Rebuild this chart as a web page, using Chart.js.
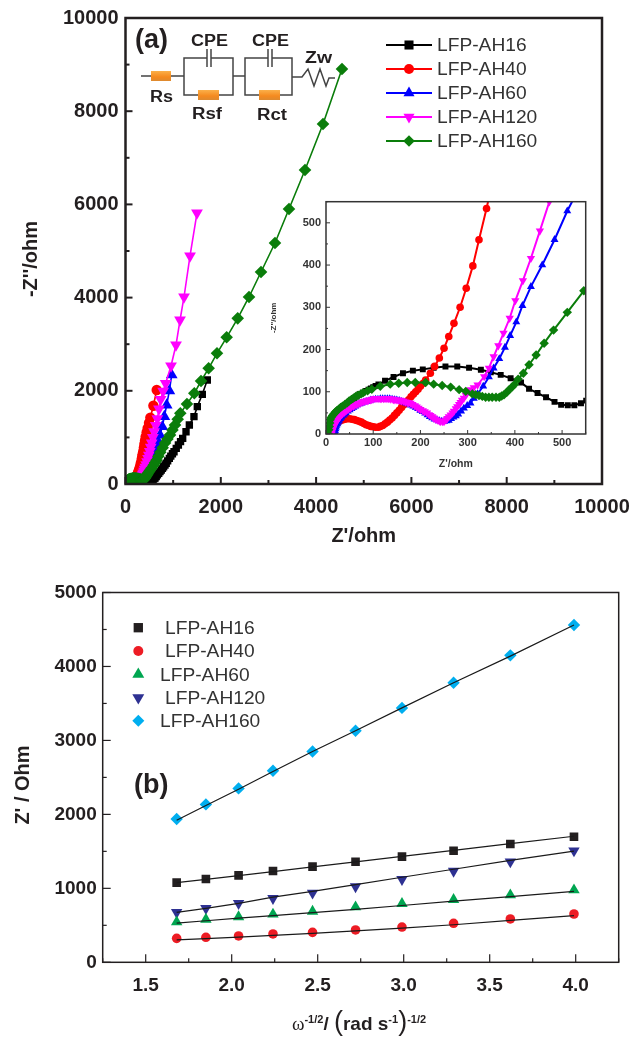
<!DOCTYPE html>
<html>
<head>
<meta charset="utf-8">
<script src="https://cdn.jsdelivr.net/npm/chart.js@4"></script>
<style>
  html, body { margin: 0; padding: 0; background: #fff; }
  body { width: 633px; height: 1040px; position: relative; overflow: hidden; font-family: "Liberation Sans", Arial, sans-serif; }
  canvas, svg { position: absolute; }
  .sideTitle { position: absolute; width: 160px; height: 24px; line-height: 24px; text-align: center; color: #231f20; font-weight: bold; font-size: 20px; transform: rotate(-90deg); white-space: nowrap; }
  #rateTitle { position: absolute; left: 259px; top: 1009px; width: 200px; text-align: center; color: #231f20; font-weight: bold; font-size: 19px; line-height: 30px; white-space: nowrap; }
  #rateTitle sup { font-size: 11px; line-height: 0; }
  #rateTitle .omega { font-family: "Liberation Serif", serif; font-weight: normal; }
  #rateTitle .paren { font-size: 27px; font-weight: normal; line-height: 0; }
</style>
</head>
<body>
<canvas id="chartA" width="633" height="560" style="left:0;top:0"></canvas>
<canvas id="chartInset" width="335" height="290" style="left:265px;top:190px"></canvas>
<canvas id="chartB" width="633" height="480" style="left:0;top:560px"></canvas>

<svg width="633" height="140" style="left:0;top:0" font-family="Liberation Sans" font-weight="bold" fill="#231f20">
  <defs>
    <linearGradient id="orange" x1="0" y1="0" x2="0" y2="1">
      <stop offset="0" stop-color="#fbb04a"/>
      <stop offset="0.6" stop-color="#f58a1f"/>
      <stop offset="1" stop-color="#dd8a30"/>
    </linearGradient>
  </defs>
  <g fill="none" stroke="#444" stroke-width="1.5">
    <path d="M141 76H184M184 76V58H207M211 58H233V95H184V76M233 76H245M245 76V58H268M272 58H292V95H245V76M292 77H302L308 69L314 86L320 69L326 86L329 78H335"/>
    <path d="M207 49V67M211 49V67M268 49V67M272 49V67"/>
  </g>
  <rect x="151" y="71" width="20" height="10" fill="url(#orange)"/>
  <rect x="198" y="90" width="21" height="10" fill="url(#orange)"/>
  <rect x="259" y="90" width="21" height="10" fill="url(#orange)"/>
  <text x="135" y="48" font-size="27">(a)</text>
  <text x="191" y="45.5" font-size="16" textLength="37" lengthAdjust="spacingAndGlyphs">CPE</text>
  <text x="252" y="45.5" font-size="16" textLength="37" lengthAdjust="spacingAndGlyphs">CPE</text>
  <text x="305" y="62.5" font-size="17" textLength="27" lengthAdjust="spacingAndGlyphs">Zw</text>
  <text x="150" y="101.5" font-size="16" textLength="23" lengthAdjust="spacingAndGlyphs">Rs</text>
  <text x="192" y="119" font-size="16" textLength="30" lengthAdjust="spacingAndGlyphs">Rsf</text>
  <text x="257" y="120" font-size="16" textLength="30" lengthAdjust="spacingAndGlyphs">Rct</text>
</svg>
<svg width="633" height="60" style="left:0;top:760px" font-family="Liberation Sans" font-weight="bold" fill="#231f20">
  <text x="134" y="33" font-size="27">(b)</text>
</svg>
<div class="sideTitle" style="left:-50px;top:247px">-Z''/ohm</div>
<div class="sideTitle" style="left:-58px;top:773px">Z' / Ohm</div>
<div id="rateTitle"><span class="omega">ω</span><sup>-1/2</sup>/ <span class="paren">(</span>rad s<sup>-1</sup><span class="paren">)</span><sup>-1/2</sup></div>

<script>
const names = ["LFP-AH16", "LFP-AH40", "LFP-AH60", "LFP-AH120", "LFP-AH160"];

// panel a, Nyquist data as [Z', -Z''] in ohm
const ah16 = [[15,0],[16,6],[17,11],[19,17],[22,24],[25,30],[28,36],[32,43],[36,50],[41,57],[46,64],[51,71],[56,78],[60,84],[65,89],[71,94],[78,98],[84,102],[90,105],[95,108],[100,111],[105,114],[111,117],[125,126],[143,135],[163,144],[184,150],[205,153],[228,157],[253,160],[278,160],[303,157],[328,152],[349,146],[370,140],[391,132],[413,122],[430,107],[448,97],[466,87],[484,76],[498,69],[512,68],[526,68],[540,73],[551,79],[565,90],[580,100],[600,115],[620,129],[645,160],[670,195],[697,230],[724,264],[750,300],[775,335],[800,370],[829,408],[855,445],[885,495],[920,551],[950,598],[985,650],[1018,693],[1065,765],[1110,837],[1155,908],[1200,980],[1270,1122],[1340,1266],[1437,1445],[1507,1660],[1612,1924],[1717,2232]];
const ah40 = [[12,0],[12.5,3],[13,6],[14,10],[15,13],[16,16],[18,20],[20,23],[22,26],[25,28],[27,30],[30,32],[33,33],[36,34],[40,35],[45,36],[50,36],[55,35],[60,34],[65,32],[70,30],[75,28],[80,25],[85,22],[90,20],[95,18],[100,17],[105,16],[111,16],[115,18],[120,20],[125,24],[130,28],[135,33],[140,38],[145,44],[150,50],[155,56],[160,63],[165,69],[170,75],[175,81],[180,88],[185,94],[190,100],[195,106],[200,113],[206,120],[211,128],[221,144],[230,160],[240,180],[250,203],[260,231],[271,262],[284,300],[297,345],[311,398],[324,460],[340,534],[350,585],[360,640],[372,700],[385,780],[397,858],[410,935],[423,1015],[444,1110],[465,1200],[493,1310],[521,1423],[585,1680],[655,2017]];
const ah60 = [[18,0],[18.5,4],[19,8],[20,12],[21,16],[22,20],[24,24],[26,28],[28,32],[30,36],[33,40],[36,44],[39,47],[42,50],[46,54],[50,57],[54,60],[58,63],[62,66],[66,69],[71,71],[75,73],[80,75],[85,77],[90,78],[95,80],[100,81],[105,82],[110,82],[115,83],[120,83],[125,83],[130,83],[135,83],[140,82],[145,81],[150,80],[155,79],[160,77],[165,75],[170,73],[175,71],[180,68],[185,66],[190,63],[195,60],[200,56],[205,53],[210,49],[215,45],[220,41],[225,38],[230,35],[235,33],[240,31],[245,30],[250,30],[255,31],[260,32],[265,36],[270,40],[275,43],[280,47],[286,54],[292,61],[299,67],[306,73],[313,84],[321,95],[333,113],[345,135],[355,156],[367,178],[379,205],[390,233],[403,265],[416,304],[434,349],[458,400],[484,460],[511,528],[528,565],[545,600],[562,640],[580,680],[600,725],[620,770],[655,840],[689,908],[724,1050],[773,1230],[815,1445],[864,1695],[920,2000],[970,2340]];
const ah120 = [[12,0],[13,6],[14,10],[15,13],[16,16],[18,21],[20,25],[22,29],[24,33],[26,36],[28,39],[30,42],[33,46],[35,48],[38,51],[40,53],[43,56],[46,58],[48,60],[51,61],[54,64],[58,66],[61,68],[65,70],[68,72],[72,73],[76,75],[80,77],[83,78],[87,79],[90,80],[94,81],[97,82],[100,83],[104,84],[108,84],[112,84],[115,84],[118,84],[122,84],[125,84],[129,84],[132,84],[136,83],[140,83],[143,82],[146,81],[150,81],[153,80],[157,80],[160,79],[164,78],[168,76],[172,75],[175,74],[179,73],[183,70],[188,67],[192,64],[196,61],[200,58],[205,55],[209,53],[214,50],[218,46],[221,44],[225,41],[228,38],[232,35],[236,33],[240,31],[243,30],[247,30],[250,30],[254,33],[257,37],[260,41],[264,45],[268,50],[271,54],[275,60],[278,65],[282,70],[285,75],[288,80],[292,85],[296,92],[299,97],[303,101],[306,105],[313,110],[321,116],[335,136],[345,156],[355,183],[365,209],[376,239],[389,274],[401,316],[417,363],[434,416],[453,481],[473,550],[490,620],[510,700],[530,790],[550,880],[575,1000],[600,1122],[635,1260],[668,1400],[703,1610],[738,1817],[790,1990],[843,2160],[955,2532],[1060,2983],[1144,3519],[1228,4013],[1354,4893],[1500,5815]];
const ah160 = [[5,0],[6,10],[7,18],[8,26],[9,34],[11,39],[14,44],[17,48],[20,52],[23,55],[27,59],[31,63],[35,66],[40,70],[45,74],[49,78],[54,82],[58,85],[63,89],[68,92],[74,95],[79,98],[88,102],[97,106],[115,113],[136,118],[154,120],[172,122],[189,122],[211,122],[228,118],[246,115],[264,111],[282,105],[296,101],[310,95],[317,93],[324,91],[331,89],[338,87],[345,87],[352,87],[360,87],[367,87],[372,90],[377,93],[383,99],[388,105],[394,111],[399,117],[407,130],[418,144],[430,164],[445,187],[462,215],[482,246],[511,288],[546,339],[590,405],[620,455],[650,510],[690,595],[730,680],[780,780],[829,880],[880,965],[934,1052],[985,1160],[1039,1266],[1095,1390],[1150,1517],[1290,1717],[1444,1946],[1585,2210],[1745,2483],[1920,2805],[2123,3148],[2355,3555],[2592,4013],[2844,4549],[3137,5172],[3431,5901],[3767,6738],[4145,7725],[4543,8906]];
const nyquistSeries = [ah16, ah40, ah60, ah120, ah160];

// panel b, Warburg plot
const omegaRoot = [1.68, 1.85, 2.04, 2.24, 2.47, 2.72, 2.99, 3.29, 3.62, 3.99];
const warburg16 = [1077, 1126, 1176, 1234, 1293, 1360, 1428, 1509, 1599, 1698];
const warburg40 = [324, 338, 356, 383, 405, 437, 477, 527, 586, 653];
const warburg60 = [545, 581, 613, 649, 689, 748, 793, 847, 910, 977];
const warburg120 = [676, 730, 797, 865, 937, 1023, 1122, 1234, 1360, 1509];
const warburg160 = [1937, 2135, 2351, 2590, 2850, 3130, 3440, 3780, 4150, 4560];
const warburgY = [warburg16, warburg40, warburg60, warburg120, warburg160];

const fit16 = [1077, 1122, 1172, 1226, 1290, 1358, 1432, 1514, 1604, 1704];
const fit40 = [302, 320, 340, 364, 392, 424, 462, 508, 566, 632];
const fit60 = [530, 562, 596, 632, 672, 716, 768, 826, 888, 960];
const fit120 = [676, 730, 797, 880, 958, 1050, 1150, 1258, 1378, 1504];
const fit160 = [1920, 2120, 2340, 2580, 2850, 3130, 3440, 3780, 4140, 4560];
const fitY = [fit16, fit40, fit60, fit120, fit160];

const nyquistColors = ["#000000", "#ff0000", "#0000ff", "#ff00ff", "#0a7d0a"];
const warburgColors = ["#231f20", "#ed1c24", "#00a651", "#2e3192", "#00aeef"];
const pointStyles = ["rect", "circle", "triangle", "triangle", "rectRot"];
const pointRotations = [0, 0, 0, 180, 0];

const textColor = "#231f20";
const fontFamily = '"Liberation Sans", Arial, sans-serif';

// inward major/minor ticks and the closed frame
const framePlugin = {
  id: "frame",
  afterDraw(chart, args, opts) {
    const { ctx, chartArea: a } = chart;
    ctx.save();
    ctx.strokeStyle = opts.color;
    ctx.lineWidth = opts.tickWidth;
    chart.scales.x.ticks.forEach((t, i) => {
      const px = chart.scales.x.getPixelForTick(i);
      const len = t.label ? opts.major : opts.minor;
      ctx.beginPath();
      ctx.moveTo(px, a.bottom);
      ctx.lineTo(px, a.bottom - len);
      ctx.stroke();
    });
    chart.scales.y.ticks.forEach((t, i) => {
      const py = chart.scales.y.getPixelForTick(i);
      const len = t.label ? opts.major : opts.minor;
      ctx.beginPath();
      ctx.moveTo(a.left, py);
      ctx.lineTo(a.left + len, py);
      ctx.stroke();
    });
    ctx.lineWidth = opts.width;
    ctx.strokeRect(a.left, a.top, a.right - a.left, a.bottom - a.top);
    ctx.restore();
  },
};

const legendPlugin = {
  id: "panelLegend",
  afterDraw(chart, args, opts) {
    const ctx = chart.ctx;
    chart.data.datasets.filter(d => d.label).forEach((d, i) => {
      const row = opts.rows[i];
      ctx.save();
      if (opts.lineFrom) {
        ctx.strokeStyle = d.borderColor;
        ctx.lineWidth = 2;
        ctx.beginPath();
        ctx.moveTo(opts.lineFrom, row);
        ctx.lineTo(opts.lineTo, row);
        ctx.stroke();
      }
      ctx.fillStyle = d.pointBackgroundColor;
      ctx.strokeStyle = d.pointBackgroundColor;
      Chart.helpers.drawPoint(ctx, { pointStyle: d.pointStyle, rotation: d.pointRotation, radius: opts.radii[i], borderWidth: 0 }, opts.markerX, row);
      ctx.fillStyle = "#333";
      ctx.font = opts.font + "px " + fontFamily;
      ctx.textBaseline = "middle";
      ctx.fillText(d.label, opts.textX[i], row + 1);
      ctx.restore();
    });
  },
};

function axis(min, max, step, label, o) {
  return {
    type: "linear",
    min: min,
    max: max,
    afterFit: s => {
      o.fit(s);
      s.paddingLeft = s.paddingRight = s.paddingTop = s.paddingBottom = 0;
    },
    grid: { display: false, drawTicks: false },
    border: { display: false },
    ticks: { stepSize: step, autoSkip: false, maxRotation: 0, color: o.color, padding: o.padding, font: { family: fontFamily, weight: "bold", size: o.size }, callback: o.callback },
    title: { display: !!label, text: label, color: o.color, padding: o.titlePadding, font: { family: fontFamily, weight: "bold", size: o.titleSize } },
  };
}

const baseOptions = { responsive: false, animation: false, events: [] };

function nyquistDatasets(radii, lineWidth) {
  return names.map((name, i) => ({
    label: name,
    data: nyquistSeries[i].map(p => ({ x: p[0], y: p[1] })),
    showLine: true,
    tension: 0,
    borderColor: nyquistColors[i],
    borderWidth: lineWidth,
    pointBackgroundColor: nyquistColors[i],
    pointBorderWidth: 0,
    pointStyle: pointStyles[i],
    pointRotation: pointRotations[i],
    pointRadius: radii[i],
    order: names.length - i,
  }));
}

new Chart(document.getElementById("chartA"), {
  type: "scatter",
  data: { datasets: nyquistDatasets([5.2, 5.2, 6.8, 6.8, 6.3], 1.6) },
  plugins: [framePlugin, legendPlugin],
  options: {
    ...baseOptions,
    layout: { padding: { top: 18, right: 31, left: 0, bottom: 0 } },
    scales: {
      x: axis(0, 10000, 1000, "Z'/ohm", { fit: s => { s.height = 76; }, color: textColor, padding: 11, size: 20, titleSize: 20, titlePadding: { top: 0, bottom: 12 }, callback: v => (v % 2000 === 0 ? String(v) : "") }),
      y: axis(0, 10000, 1000, "", { fit: s => { s.width = 125.5; }, color: textColor, padding: 7, size: 20, callback: v => (v % 2000 === 0 ? String(v) : "") }),
    },
    plugins: {
      legend: { display: false },
      tooltip: { enabled: false },
      frame: { color: textColor, width: 2.5, tickWidth: 2, major: 7, minor: 4 },
      panelLegend: { rows: [45, 69, 93, 117, 141], lineFrom: 386, lineTo: 432, markerX: 409, radii: [6.4, 5, 6.4, 6.4, 5.8], font: 19.2, textX: [437, 437, 437, 437, 437] },
    },
  },
});

new Chart(document.getElementById("chartInset"), {
  type: "scatter",
  data: { datasets: nyquistDatasets([4.2, 3.8, 4.6, 4.8, 4.7], 2) },
  plugins: [framePlugin],
  options: {
    ...baseOptions,
    layout: { padding: { top: 11.7, right: 14.3, left: 0, bottom: 0 } },
    scales: {
      x: axis(0, 550, 50, "Z'/ohm", { fit: s => { s.height = 46; }, color: "#333", padding: 2, size: 11, titleSize: 10.5, titlePadding: { top: 0, bottom: 10 }, callback: v => (v % 100 === 0 ? String(v) : "") }),
      y: axis(0, 550, 50, "-Z''/ohm", { fit: s => { s.width = 61; }, color: "#333", padding: 5, size: 11, titleSize: 8, titlePadding: { top: 4, bottom: 0 }, callback: v => (v % 100 === 0 ? String(v) : "") }),
    },
    plugins: {
      legend: { display: false },
      tooltip: { enabled: false },
      frame: { color: "#333", width: 1.5, tickWidth: 1, major: 4, minor: 2 },
    },
  },
});

const warburgRadii = [6.1, 4.8, 6.6, 6.6, 6.2];
const warburgMarks = names.map((name, i) => ({
  label: name,
  data: omegaRoot.map((x, j) => ({ x: x, y: warburgY[i][j] })),
  showLine: false,
  pointBackgroundColor: warburgColors[i],
  pointBorderWidth: 0,
  pointStyle: pointStyles[i],
  pointRotation: pointRotations[i],
  pointRadius: warburgRadii[i],
  order: 2,
}));
const warburgFits = names.map((name, i) => ({
  data: omegaRoot.map((x, j) => ({ x: x, y: fitY[i][j] })),
  showLine: true,
  tension: 0,
  borderColor: "#1a1a1a",
  borderWidth: 1.2,
  pointRadius: 0,
  order: 1,
}));

new Chart(document.getElementById("chartB"), {
  type: "scatter",
  data: { datasets: warburgMarks.concat(warburgFits) },
  plugins: [framePlugin, legendPlugin],
  options: {
    ...baseOptions,
    layout: { padding: { top: 32.5, right: 14.3, left: 0, bottom: 0 } },
    scales: {
      x: axis(1.25, 4.25, 0.25, "", { fit: s => { s.height = 77.7; }, color: textColor, padding: 12, size: 19, callback: v => (Number.isInteger(v * 2) ? v.toFixed(1) : "") }),
      y: axis(0, 5000, 500, "", { fit: s => { s.width = 102.7; }, color: textColor, padding: 6, size: 19, callback: v => (v % 1000 === 0 ? String(v) : "") }),
    },
    plugins: {
      legend: { display: false },
      tooltip: { enabled: false },
      frame: { color: textColor, width: 1.5, tickWidth: 1.2, major: 8, minor: 4 },
      panelLegend: { rows: [67.7, 91, 114.3, 137.7, 160.7], markerX: 138.3, radii: [6.6, 5, 6.9, 6.9, 6], font: 19.2, textX: [165, 165, 160, 165, 160] },
    },
  },
});
</script>
</body>
</html>
